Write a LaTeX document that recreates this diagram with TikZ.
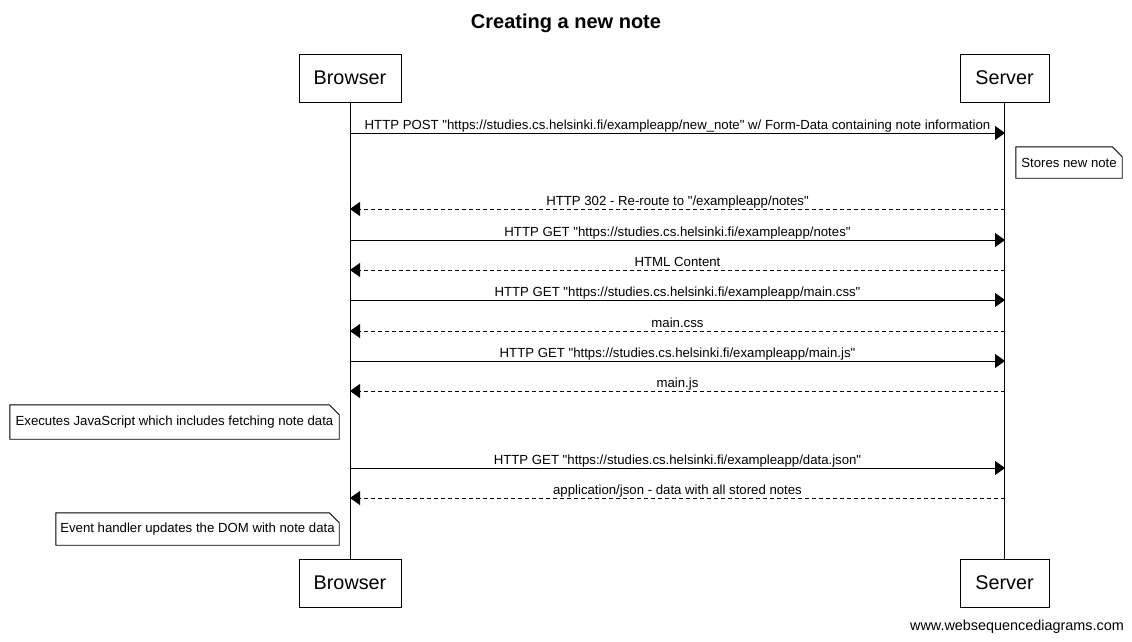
\documentclass[tikz,border=0pt]{standalone}
\usepackage{fontspec}
\setmainfont{Liberation Sans}[Ligatures=TeXOff]
\usetikzlibrary{arrows.meta}
\newcommand\dq{\char"22\relax}
\begin{document}
\begin{tikzpicture}[x=1pt,y=-1pt,
  actor/.style={draw,line width=0.9pt,minimum width=#1,minimum height=48pt,inner sep=0pt,
    font=\fontsize{19.8}{23}\selectfont},
  lifeline/.style={line width=0.9pt},
  msg/.style={line width=0.9pt,-{Triangle[length=10pt,width=14pt]}},
  reply/.style={msg,dash pattern=on 4pt off 3pt},
  lbl/.style={font=\fontsize{13.2}{15}\selectfont,inner sep=0pt,anchor=base,yshift=3.5pt},
  notebox/.style={minimum width=#1,inner sep=0pt,font=\fontsize{13.2}{15}\selectfont},
  noteline/.style={draw,line width=0.9pt},
]
\useasboundingbox (0,0) rectangle (1132,642);

% title
\node[font=\bfseries\fontsize{20}{23}\selectfont] (title) at (566,23) {Creating a new note};

% participants
\node[actor=102pt] (bt) at (350,78) {Browser};
\node[actor=89pt]  (st) at (1004.5,78) {Server};
\node[actor=102pt] (bb) at (350,583) {Browser};
\node[actor=89pt]  (sb) at (1004.5,583) {Server};
\draw[lifeline] (bt.south) -- (bb.north);
\draw[lifeline] (st.south) -- (sb.north);

% message end points on the lifelines
\foreach \n/\y in {1/133,2/209,3/240,4/270,5/300,6/331,7/361,8/391,9/468,10/498}{
  \coordinate (b\n) at (350,\y);
  \coordinate (s\n) at (1005,\y);
}

% dog-eared note outline around a named node
\newcommand\noteoutline[1]{%
  \draw[noteline] (#1.north west) -- ([xshift=-10pt]#1.north east)
    -- ([yshift=-10pt]#1.north east) -- (#1.south east) -- (#1.south west) -- cycle;}

\draw[msg] (b1) -- node[lbl] {HTTP POST \dq https://studies.cs.helsinki.fi/exampleapp/new\_note\dq{} w/ Form-Data containing note information} (s1);

\node[notebox=106pt,minimum height=31pt] (n1) at (1069,162.5) {Stores new note};
\noteoutline{n1}

\draw[reply] (s2) -- node[lbl] {HTTP 302 - Re-route to \dq/exampleapp/notes\dq} (b2);
\draw[msg] (b3) -- node[lbl] {HTTP GET \dq https://studies.cs.helsinki.fi/exampleapp/notes\dq} (s3);
\draw[reply] (s4) -- node[lbl] {HTML Content} (b4);
\draw[msg] (b5) -- node[lbl] {HTTP GET \dq https://studies.cs.helsinki.fi/exampleapp/main.css\dq} (s5);
\draw[reply] (s6) -- node[lbl] {main.css} (b6);
\draw[msg] (b7) -- node[lbl] {HTTP GET \dq https://studies.cs.helsinki.fi/exampleapp/main.js\dq} (s7);
\draw[reply] (s8) -- node[lbl] {main.js} (b8);

\node[notebox=329pt,minimum height=34pt] (n2) at (174.5,422) {Executes JavaScript which includes fetching note data};
\noteoutline{n2}

\draw[msg] (b9) -- node[lbl] {HTTP GET \dq https://studies.cs.helsinki.fi/exampleapp/data.json\dq} (s9);
\draw[reply] (s10) -- node[lbl] {application/json - data with all stored notes} (b10);

\node[notebox=283pt,minimum height=32pt] (n3) at (197.5,529) {Event handler updates the DOM with note data};
\noteoutline{n3}

% credit line
\node[font=\fontsize{14.4}{17}\selectfont,inner sep=0pt] (credit) at (1017,627) {www.websequencediagrams.com};
\end{tikzpicture}
\end{document}
